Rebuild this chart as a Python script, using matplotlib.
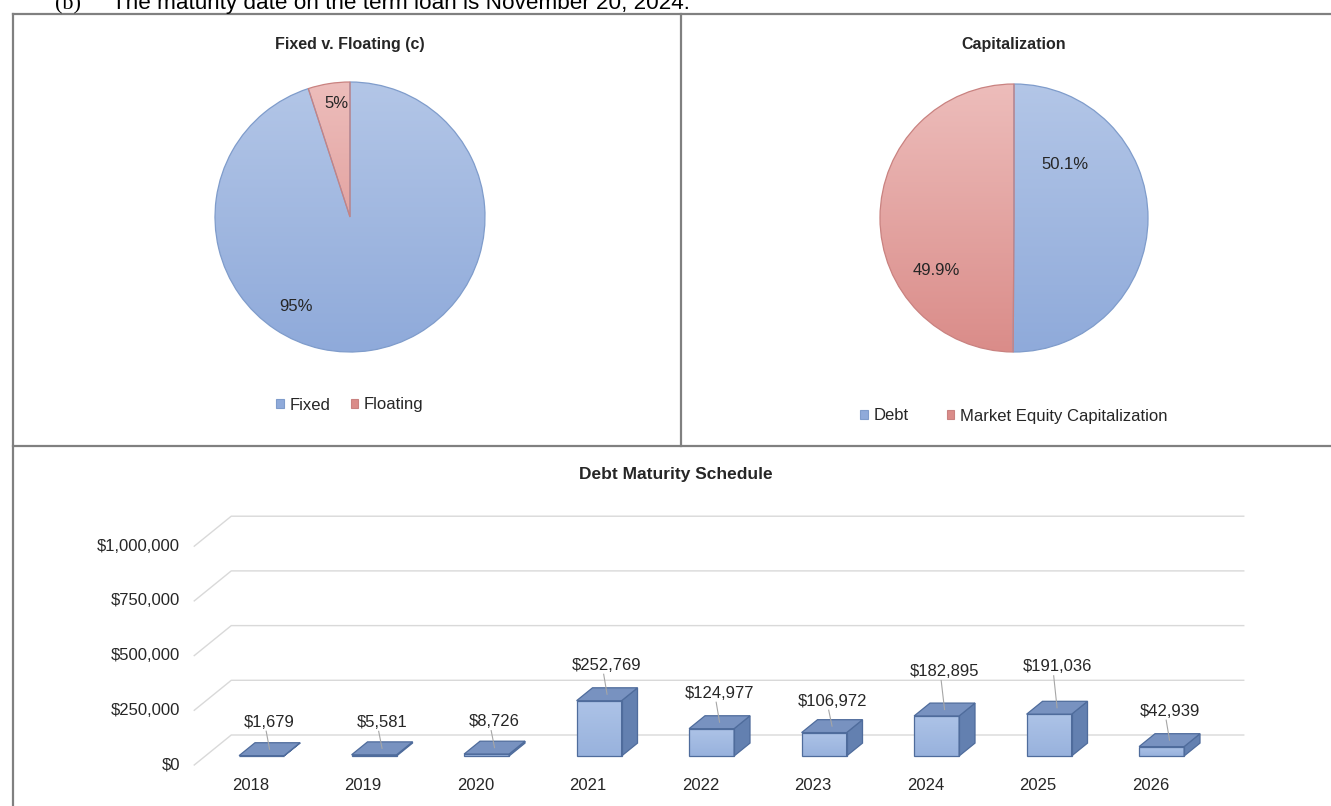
import numpy as np
import matplotlib
matplotlib.use("Agg")
import matplotlib.pyplot as plt
import matplotlib.colors as mcolors
import matplotlib.transforms as mtransforms
from matplotlib.lines import Line2D
from matplotlib.patches import Polygon, Rectangle

plt.rcParams['font.family'] = ['Liberation Sans', 'DejaVu Sans']

# ---------------- data ----------------
fixed_labels = ['Fixed', 'Floating']
fixed_values = [95, 5]
fixed_pct_text = ['95%', '5%']

cap_labels = ['Debt', 'Market Equity Capitalization']
cap_values = [50.1, 49.9]
cap_pct_text = ['50.1%', '49.9%']

years = ['2018', '2019', '2020', '2021', '2022', '2023', '2024', '2025', '2026']
maturities = [1679, 5581, 8726, 252769, 124977, 106972, 182895, 191036, 42939]
maturity_labels = ['$1,679', '$5,581', '$8,726', '$252,769', '$124,977',
                   '$106,972', '$182,895', '$191,036', '$42,939']
y_ticks = [0, 250000, 500000, 750000, 1000000]
y_tick_labels = ['$0', '$250,000', '$500,000', '$750,000', '$1,000,000']

# ---------------- styles ----------------
W, H = 1331, 806
TXT = '#262626'
BORDER = '#808080'
FS = 12
BLUE_TOP, BLUE_BOT, BLUE_EDGE = '#B3C6E7', '#8FAADA', '#7F9CCB'
RED_TOP, RED_BOT, RED_EDGE = '#EDBDBB', '#DA8C89', '#C98280'

fig = plt.figure(figsize=(W / 100, H / 100), dpi=100)
fig.patch.set_facecolor('white')


def fx(x):
    return x / W


def fy(y):
    return 1 - y / H


def axes_px(x0, y0, x1, y1):
    return fig.add_axes([fx(x0), fy(y1), (x1 - x0) / W, (y1 - y0) / H])


# ---------------- page text above charts ----------------
fig.text(fx(55), fy(9), '(b)', family=['Liberation Serif', 'DejaVu Serif'],
         fontsize=16, color='black', va='baseline')
fig.text(fx(112), fy(9), 'The maturity date on the term loan is November 20, 2024.',
         fontsize=16.2, color='black', va='baseline')

# ---------------- panel borders ----------------
for (x0, y0, x1, y1) in [(13, 14, 1331, 14), (13, 14, 13, 806),
                         (681, 14, 681, 446), (13, 446, 1331, 446)]:
    fig.add_artist(Line2D([fx(x0), fx(x1)], [fy(y0), fy(y1)], color=BORDER,
                          lw=1.6, transform=fig.transFigure))


# ---------------- pies ----------------
def gradient_pie(cx, cy, r, values, tops, bots, edges, pct_text, pct_pos,
                 title, legend_labels, legend_y, colspacing):
    half = 150
    ax = axes_px(cx - half, cy - half, cx + half, cy + half)
    wedges, _ = ax.pie(values, startangle=90, counterclock=False,
                       colors=tops, wedgeprops=dict(linewidth=0.9))
    grad = np.linspace(0, 1, 256)[:, None]
    for w, ct, cb, ce in zip(wedges, tops, bots, edges):
        w.set_facecolor('none')
        w.set_edgecolor(ce)
        w.set_zorder(3)
        cmap = mcolors.LinearSegmentedColormap.from_list('g', [ct, cb])
        im = ax.imshow(grad, cmap=cmap, extent=(-1, 1, -1, 1), origin='upper',
                       aspect='auto', zorder=1)
        im.set_clip_path(w)
    lim = half / r
    ax.set_xlim(-lim, lim)
    ax.set_ylim(-lim, lim)
    ax.set_aspect('equal')
    ax.axis('off')
    for t, (ang, dist) in zip(pct_text, pct_pos):
        a = np.deg2rad(ang)
        ax.text(dist * np.cos(a), dist * np.sin(a), t, ha='center', va='center',
                fontsize=FS, color=TXT, zorder=5)
    fig.text(fx(cx), fy(44), title, ha='center', va='center', fontsize=11.5,
             fontweight='bold', color=TXT)
    handles = [Rectangle((0, 0), 1, 1, facecolor=cb, edgecolor=ce, lw=0.8)
               for cb, ce in zip(bots, edges)]
    fig.legend(handles, legend_labels, loc='center', ncol=2, frameon=False,
               bbox_to_anchor=(fx(cx), fy(legend_y)), fontsize=FS,
               handlelength=0.45, handleheight=0.45, handletextpad=0.35,
               columnspacing=colspacing, labelcolor=TXT)
    return ax


gradient_pie(350, 217, 135, fixed_values, [BLUE_TOP, RED_TOP], [BLUE_BOT, RED_BOT],
             [BLUE_EDGE, RED_EDGE], fixed_pct_text, [(-121, 0.77), (97, 0.85)],
             'Fixed v. Floating (c)', fixed_labels, 405, 1.2)
gradient_pie(1014, 218, 134, cap_values, [BLUE_TOP, RED_TOP], [BLUE_BOT, RED_BOT],
             [BLUE_EDGE, RED_EDGE], cap_pct_text, [(46.6, 0.55), (-146, 0.70)],
             'Capitalization', cap_labels, 416, 2.3)

# ---------------- 3D-style column chart ----------------
fig.text(fx(676), fy(475), 'Debt Maturity Schedule', ha='center', va='center',
         fontsize=12.5, fontweight='bold', color=TXT)

PX_PER_CAT = 112.5
PX_PER_VAL = 54.7 / 250000
CAT0_PX = 250.5     # front-floor x of first category
VAL0_PX = 765       # front-floor y of value 0
AX_X0, AX_X1, AX_Y0, AX_Y1 = 100, 1320, 480, 800

ax = axes_px(AX_X0, AX_Y0, AX_X1, AX_Y1)
ax.axis('off')

DX = 37 / PX_PER_CAT          # floor depth in category units
DY = 30 / PX_PER_VAL          # floor depth in value units
F_FRONT, F_DEPTH = 0.30, 0.43  # bar front position and depth (fraction of floor)
BAR_W = 0.40
x_left, x_right = -0.5, len(years) - 0.5

GRID = '#D9D9D9'
for v, lab in zip(y_ticks, y_tick_labels):
    ax.plot([x_left, x_left + DX, x_right + DX], [v, v + DY, v + DY],
            color=GRID, lw=1.0, zorder=0)
    ax.text(x_left, v, lab, ha='right', va='center', fontsize=FS, color=TXT,
            transform=mtransforms.offset_copy(ax.transData, fig, x=-14, y=0, units='dots'))

FRONT_TOP, FRONT_BOT = '#ADC3E7', '#98B2DD'
TOP_C, SIDE_C, EDGE_C = '#7892C0', '#6380B0', '#4F6C9C'
label_lift_px = [27, 26, 26, 29, 29, 25, 38, 41, 29]
grad = np.linspace(0, 1, 64)[:, None]
cmap_front = mcolors.LinearSegmentedColormap.from_list('f', [FRONT_TOP, FRONT_BOT])

for i, (yr, v, lab) in enumerate(zip(years, maturities, maturity_labels)):
    fx0 = i + F_FRONT * DX - BAR_W / 2
    fx1 = fx0 + BAR_W
    fy0 = F_FRONT * DY
    fy1 = fy0 + v
    ddx, ddy = F_DEPTH * DX, F_DEPTH * DY
    front = Polygon([(fx0, fy0), (fx1, fy0), (fx1, fy1), (fx0, fy1)], closed=True,
                    facecolor='none', edgecolor=EDGE_C, lw=0.9, zorder=4)
    side = Polygon([(fx1, fy0), (fx1 + ddx, fy0 + ddy), (fx1 + ddx, fy1 + ddy), (fx1, fy1)],
                   closed=True, facecolor=SIDE_C, edgecolor=EDGE_C, lw=0.9, zorder=3)
    top = Polygon([(fx0, fy1), (fx1, fy1), (fx1 + ddx, fy1 + ddy), (fx0 + ddx, fy1 + ddy)],
                  closed=True, facecolor=TOP_C, edgecolor=EDGE_C, lw=0.9, zorder=3)
    ax.add_patch(side)
    ax.add_patch(top)
    ax.add_patch(front)
    im = ax.imshow(grad, cmap=cmap_front, extent=(fx0, fx1, fy0, max(fy1, fy0 + 1)),
                   origin='upper', aspect='auto', zorder=2)
    im.set_clip_path(front)
    # year label
    ax.text(i, 0, yr, ha='center', va='center', fontsize=FS, color=TXT,
            transform=mtransforms.offset_copy(ax.transData, fig, x=0, y=-20, units='dots'))
    # value label with leader line
    cxm = i + (F_FRONT + F_DEPTH / 2) * DX
    cym = fy1 + (F_DEPTH / 2) * DY
    lift = label_lift_px[i] / PX_PER_VAL
    ax.text(cxm, cym + lift, lab, ha='center', va='center', fontsize=FS, color=TXT, zorder=6)
    ax.plot([cxm, cxm - 0.03], [cym, cym + lift - 9 / PX_PER_VAL],
            color='#A6A6A6', lw=0.8, zorder=5)

ax.set_xlim((AX_X0 - CAT0_PX) / PX_PER_CAT, (AX_X1 - CAT0_PX) / PX_PER_CAT)
ax.set_ylim((VAL0_PX - AX_Y1) / PX_PER_VAL, (VAL0_PX - AX_Y0) / PX_PER_VAL)

fig.savefig('out.png', dpi=100, facecolor='white')
